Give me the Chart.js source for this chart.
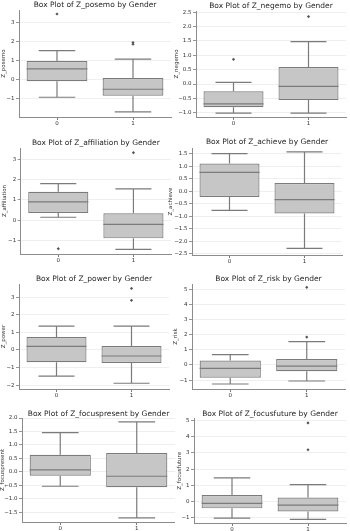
<!DOCTYPE html>
<html>
<head>
<meta charset="utf-8">
<script src="https://cdn.jsdelivr.net/npm/chart.js@4.4.1/dist/chart.umd.min.js"></script>
<style>
  html, body { margin: 0; padding: 0; background: #fff; }
  #wrap { position: relative; width: 350px; height: 531px; overflow: hidden; }
  canvas { position: absolute; }
</style>
</head>
<body>
<div id="wrap"></div>
<script>
// values
const groups = ['0', '1'];
const variables = ['Z_posemo', 'Z_negemo', 'Z_affiliation', 'Z_achieve', 'Z_power', 'Z_risk', 'Z_focuspresent', 'Z_focusfuture'];
const whiskerLow  = [[-0.91, -1.68], [-1.01, -1.01], [0.15, -1.43], [-0.77, -2.29], [-1.48, -1.89], [-1.26, -1.06], [-0.53, -1.70], [-1.01, -1.09]];
const quartile1   = [[-0.07, -0.83], [-0.81, -0.56], [0.36, -0.89], [-0.23, -0.89], [-0.70, -0.74], [-0.84, -0.42], [-0.14, -0.57], [-0.41, -0.60]];
const medians     = [[0.58, -0.49], [-0.69, -0.08], [0.91, -0.20], [0.75, -0.34], [0.21, -0.34], [-0.22, -0.07], [0.08, -0.16], [-0.10, -0.21]];
const quartile3   = [[1.00, 0.10], [-0.25, 0.59], [1.40, 0.35], [1.11, 0.33], [0.74, 0.23], [0.29, 0.40], [0.64, 0.70], [0.41, 0.25]];
const whiskerHigh = [[1.54, 1.09], [0.06, 1.48], [1.81, 1.55], [1.50, 1.57], [1.36, 1.36], [0.68, 1.55], [1.46, 1.86], [1.46, 1.05]];
const outliers = [
  [[3.47], [1.97, 1.88]],
  [[0.86], [2.35]],
  [[-1.40], [3.33]],
  [[], []],
  [[], [3.50, 2.82]],
  [[], [5.14, 1.85]],
  [[], []],
  [[], [4.85, 3.20]]
];
const yMin  = [-1.95, -1.148, -1.66, -2.553, -2.216, -1.59, -1.856, -1.314];
const yMax  = [3.68, 2.545, 3.56, 1.727, 3.75, 5.36, 2.0, 5.118];
const yStep = [1, 0.5, 1, 0.5, 1, 1, 0.5, 1];

// layout of each panel: canvas [left, top, w, h], plot area [l, r, t, b] inside it,
// title centre y, y-label centre x
const frames = [
  [0, 0, 175, 133], [168, 0, 182, 133],
  [0, 133, 175, 133], [168, 133, 182, 133],
  [0, 266, 175, 133], [168, 266, 182, 133],
  [0, 399, 175, 132], [168, 399, 182, 132]
];
const areas = [
  [19, 173, 10, 117], [28, 181.5, 11, 117],
  [20.7, 172, 15, 121], [24, 174, 15, 122],
  [19, 169, 18, 123], [24, 177, 18, 123],
  [22, 175, 19, 123], [26, 182, 19.6, 124]
];
const titleY = [5, 6, 10, 9, 13, 13, 15, 15];
const ylabX = [4, 9, 5, 3, 4, 8, 3, 12];

const FILL = '#c6c6c6';
const EDGE = '#7b7b7b';
const FONT = "'DejaVu Sans', sans-serif";

const boxLines = {
  id: 'boxLines',
  afterDatasetsDraw(chart, args, opts) {
    const k = opts.panel;
    const { ctx, scales: { x, y } } = chart;
    const meta = chart.getDatasetMeta(0);
    ctx.save();
    ctx.strokeStyle = EDGE;
    ctx.lineWidth = 1.2;
    groups.forEach((g, i) => {
      const cx = x.getPixelForValue(i);
      const half = meta.data[i].width / 2;
      const cap = half * 0.6;
      const yl = y.getPixelForValue(whiskerLow[k][i]);
      const yq1 = y.getPixelForValue(quartile1[k][i]);
      const ym = y.getPixelForValue(medians[k][i]);
      const yq3 = y.getPixelForValue(quartile3[k][i]);
      const yh = y.getPixelForValue(whiskerHigh[k][i]);
      ctx.beginPath();
      ctx.moveTo(cx - half, ym); ctx.lineTo(cx + half, ym);
      ctx.moveTo(cx, yq1); ctx.lineTo(cx, yl);
      ctx.moveTo(cx, yq3); ctx.lineTo(cx, yh);
      ctx.moveTo(cx - cap, yl); ctx.lineTo(cx + cap, yl);
      ctx.moveTo(cx - cap, yh); ctx.lineTo(cx + cap, yh);
      ctx.stroke();
    });
    ctx.restore();
  }
};

const fmt = (step) => (v) => {
  const s = step < 1 ? v.toFixed(1) : String(Math.round(v));
  return s.replace('-', '\u2212');
};

const wrap = document.getElementById('wrap');

variables.forEach((name, k) => {
  const [fl, ft, fw, fh] = frames[k];
  const [al, ar, at, ab] = areas[k];
  const cv = document.createElement('canvas');
  cv.width = fw; cv.height = fh;
  cv.style.left = fl + 'px'; cv.style.top = ft + 'px';
  cv.style.width = fw + 'px'; cv.style.height = fh + 'px';
  wrap.appendChild(cv);

  const titleSize = 7.5, titleLH = titleSize * 1.2;
  const tTop = titleY[k] - titleLH / 2;
  const tBottom = at - titleLH - tTop;

  const points = [];
  groups.forEach((g, i) => outliers[k][i].forEach(v => points.push({ x: g, y: v })));

  new Chart(cv, {
    type: 'bar',
    data: {
      labels: groups,
      datasets: [{
        data: groups.map((g, i) => [quartile1[k][i], quartile3[k][i]]),
        backgroundColor: FILL,
        borderColor: EDGE,
        borderWidth: 1.2,
        borderSkipped: false,
        barPercentage: 0.8,
        categoryPercentage: 1.0
      }, {
        type: 'line',
        data: points,
        showLine: false,
        pointStyle: 'rectRot',
        pointRadius: 1.6,
        pointBackgroundColor: '#555',
        pointBorderWidth: 0
      }]
    },
    options: {
      responsive: false,
      animation: false,
      devicePixelRatio: 1,
      layout: { padding: { left: 0, right: fw - ar, top: 0, bottom: 0 } },
      plugins: {
        legend: { display: false },
        tooltip: { enabled: false },
        title: {
          display: true,
          text: 'Box Plot of ' + name + ' by Gender',
          fullSize: false,
          color: '#262626',
          font: { family: FONT, size: titleSize, weight: 'normal', lineHeight: 1.2 },
          padding: { top: tTop, bottom: tBottom }
        },
        boxLines: { panel: k }
      },
      scales: {
        x: {
          grid: { display: true, drawOnChartArea: false, offset: false, tickLength: 3, tickColor: EDGE },
          border: { display: true, color: '#8c8c8c', width: 1 },
          ticks: { color: '#333', padding: 0, font: { family: FONT, size: 5.5 } },
          afterFit: (s) => { s.height = fh - ab; }
        },
        y: {
          min: yMin[k],
          max: yMax[k],
          grid: { color: '#ebebeb', lineWidth: 0.8, tickLength: 3, tickColor: EDGE },
          border: { display: true, color: '#8c8c8c', width: 1 },
          ticks: { stepSize: yStep[k], includeBounds: false, color: '#333', padding: 1.5,
                   font: { family: FONT, size: 5.5 }, callback: fmt(yStep[k]) },
          title: { display: true, text: name, color: '#333',
                   font: { family: FONT, size: 5.5, lineHeight: 1.2 },
                   padding: { top: ylabX[k] - 3.3, bottom: 0 } },
          afterFit: (s) => { s.width = al; }
        }
      }
    },
    plugins: [boxLines]
  });
});
</script>
</body>
</html>
